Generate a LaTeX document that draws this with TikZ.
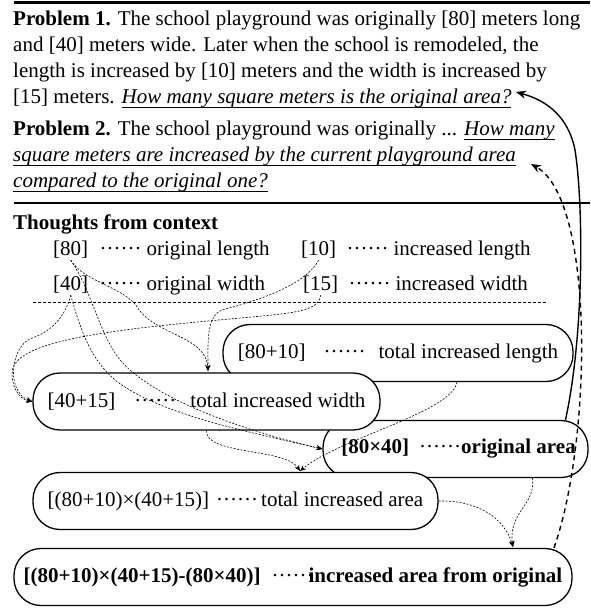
\documentclass[tikz,border=0pt]{standalone}
\usepackage{fontspec}
\setmainfont{Liberation Serif}
\usetikzlibrary{positioning,arrows.meta}

\newsavebox{\quesbox}
\newcommand{\dotrow}[1][30pt]{\makebox[#1][s]{·\hfill·\hfill·\hfill·\hfill·\hfill·}}
\newcommand{\ques}[1]{\sbox{\quesbox}{\textit{#1}}\rlap{\rule[-4.5pt]{\wd\quesbox}{1.1pt}}\usebox{\quesbox}}

\begin{document}
\begin{tikzpicture}[x=1pt,y=-1pt,
    txt/.style={inner sep=0pt,font=\fontsize{21}{26}\selectfont},
    val/.style={txt,text height=15pt,text depth=5pt},
    stage/.style={txt,draw,fill=white,line width=1.3pt,rounded corners=27pt,minimum height=57pt},
    flow/.style={line width=0.6pt,dash pattern=on 2pt off 1.5pt,-{Stealth[length=6pt,width=5pt]}},
    back/.style={line width=1.4pt,-{Stealth[length=10pt,width=8pt]}}]
  \useasboundingbox (0,0) rectangle (590,613);

  \draw[line width=3pt] (14,2) -- (590,2);
  \node[txt,anchor=north west,align=left] (prob1) at (13,11)
    {\textbf{Problem 1.} The school playground was originally [80] meters long\\
     and [40] meters wide. Later when the school is remodeled, the\\
     length is increased by [10] meters and the width is increased by\\
     {[15]} meters. \ques{How many square meters is the original area?}};
  \node[txt,align=left,below right=12pt and 0pt of prob1.south west] (prob2)
    {\textbf{Problem 2.} The school playground was originally ... \ques{How many}\\
     \ques{square meters are increased by the current playground area}\\
     \ques{compared to the original one?}};
  \draw[line width=1.3pt] (14,203) -- (590,203);

  \node[txt,anchor=base west] (head) at (13,229) {\textbf{Thoughts from context}};
  \node[val,anchor=base west] (v80) at (53,255) {[80]};
  \node[val,right=11pt of v80] (d80) {\dotrow\hspace{17pt}original length};
  \node[val,anchor=base west] (v10) at (301,255) {[10]};
  \node[val,right=10pt of v10] (d10) {\dotrow\hspace{17pt}increased length};
  \node[val,anchor=base west] (v40) at (53,290) {[40]};
  \node[val,right=11pt of v40] (d40) {\dotrow\hspace{17pt}original width};
  \node[val,anchor=base west] (v15) at (303,290) {[15]};
  \node[val,right=10pt of v15] (d15) {\dotrow\hspace{17pt}increased width};
  \draw[line width=0.6pt,dash pattern=on 3pt off 2pt] (33,302) -- (548,302);

  \node[stage,minimum width=350pt] (b8010) at (398,353)
    {[80+10]\hspace{18pt}\dotrow[36pt]\hspace{19pt}total increased length};
  \node[stage,minimum width=265pt] (b8040) at (455.5,449)
    {\hspace{6pt}\textbf{[80×40]}\hspace{10pt}\dotrow[32pt]\hspace{10pt}\textbf{original area}};
  \node[stage,minimum width=347pt] (b4015) at (206.5,401.5)
    {[40+15]\hspace{19pt}\dotrow[37pt]\hspace{19pt}total increased width};
  \node[stage,minimum width=405pt] (btot) at (235.5,501)
    {[(80+10)×(40+15)]\hspace{7pt}\dotrow\hspace{15pt}total increased area};
  \node[stage,minimum width=558pt] (bbot) at (293,577)
    {\textbf{[(80+10)×(40+15)-(80×40)]}\hspace{11pt}\dotrow\hspace{7pt}\textbf{increased area from original}};

  \coordinate (j8010) at (208,371);
  \coordinate (jtot) at (300,471);
  \coordinate (jbot) at (513,547);
  \coordinate (jq1) at (516,92);
  \coordinate (jq2) at (531,164);

  \draw[flow] (v80.south) .. controls (85,282) and (118,285) .. (136,305) .. controls (152,335) and (206,335) .. (j8010);
  \draw[flow] (v10.south) .. controls (305,285) and (260,300) .. (222,310) .. controls (206,316) and (208,345) .. (j8010);
  \draw[flow] (v40.south) .. controls (65,318) and (50,332) .. (32,338) .. controls (10,346) and (6,392) .. (b4015.west);
  \draw[flow] (v15.south) .. controls (318,312) and (295,313) .. (230,319) .. controls (80,332) and (10,345) .. (12,375) .. controls (13,392) and (22,400) .. (b4015.west);
  \draw[flow] (v80.south) .. controls (95,295) and (100,345) .. (130,370) .. controls (170,405) and (250,432) .. (b8040.west);
  \draw[flow] (v40.south) .. controls (82,335) and (92,360) .. (115,380) .. controls (160,415) and (250,432) .. (b8040.west);
  \draw[flow] (b4015.south) .. controls (205,455) and (285,448) .. (jtot);
  \draw[flow] ([xshift=59pt]b8010.south) .. controls (452,412) and (340,438) .. (jtot);
  \draw[flow] (btot.east) .. controls (480,500) and (505,520) .. (jbot);
  \draw[flow] ([xshift=77pt]b8040.south) .. controls (536,505) and (508,512) .. (jbot);
  \draw[back] ([xshift=110pt]b8040.north) .. controls (585,330) and (583,200) .. (575,150) .. controls (568,115) and (545,100) .. (jq1);
  \draw[back,dash pattern=on 5pt off 4pt] ([xshift=261pt]bbot.north) .. controls (592,440) and (595,200) .. (jq2);
\end{tikzpicture}
\end{document}
